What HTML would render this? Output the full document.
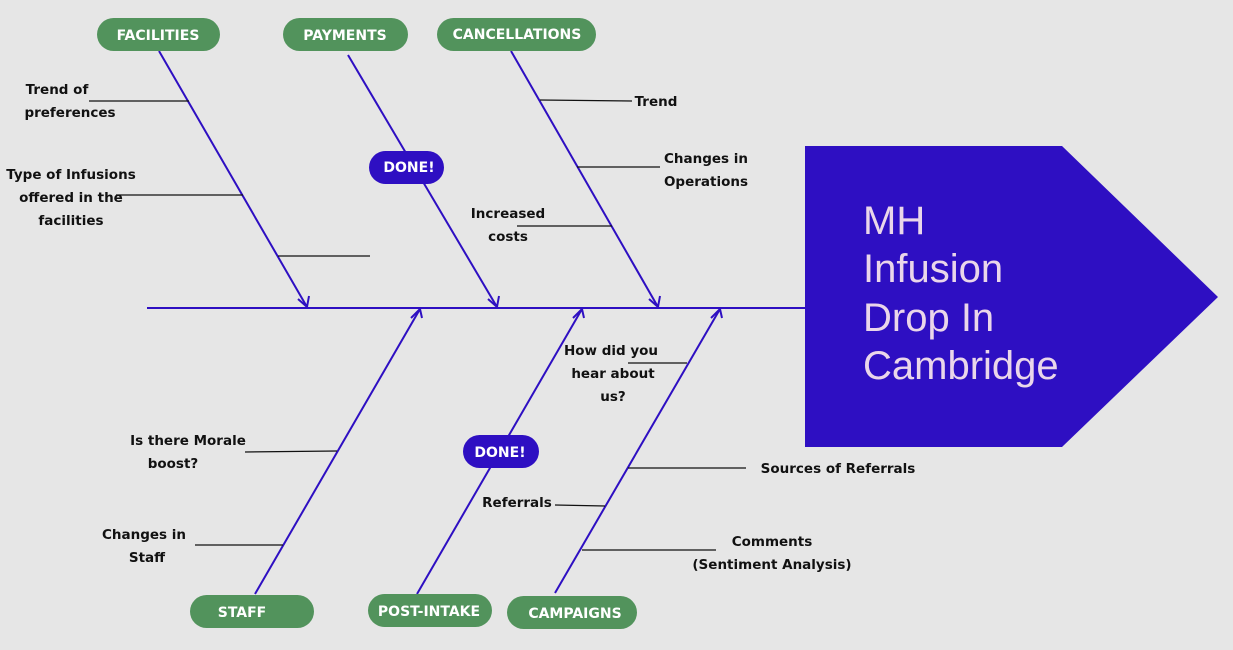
<!DOCTYPE html>
<html><head><style>
html,body{margin:0;padding:0;background:#e6e6e6;}
svg{display:block;}
.l{font-family:"DejaVu Sans","Liberation Sans",sans-serif;font-size:13.5px;font-weight:bold;fill:#111;}
.p{font-family:"DejaVu Sans","Liberation Sans",sans-serif;font-size:14px;font-weight:bold;fill:#fff;}
</style></head><body>
<svg width="1233" height="650" viewBox="0 0 1233 650" xmlns="http://www.w3.org/2000/svg">
<rect width="1233" height="650" fill="#e6e6e6"/>
<polygon points="805,146 1062,146 1218,297 1062,447 805,447" fill="#2e0fc2"/>
<g font-family="Liberation Sans, sans-serif" font-size="40" fill="#ead6ea">
<text x="863" y="234">MH</text><text x="863" y="282">Infusion</text><text x="863" y="331">Drop In</text><text x="863" y="379">Cambridge</text>
</g>
<g stroke="#2e0fc2" stroke-width="2" fill="none">
<line x1="147" y1="308" x2="805" y2="308"/>
<line x1="159" y1="51" x2="307" y2="307"/>
<line x1="348" y1="55" x2="497" y2="307"/>
<line x1="511" y1="51" x2="658" y2="307"/>
<line x1="255" y1="594" x2="420" y2="309"/>
<line x1="417" y1="594" x2="582" y2="309"/>
<line x1="555" y1="593" x2="720" y2="309"/>
<polyline points="298,299 307,307 309,296"/>
<polyline points="488,299 497,307 499,296"/>
<polyline points="649,299 658,307 660,296"/>
<polyline points="411,318 420,309 422,318"/>
<polyline points="573,318 582,309 584,318"/>
<polyline points="711,318 720,309 722,318"/>
</g>
<g stroke="#111" stroke-width="1.2">
<line x1="89" y1="101" x2="189" y2="101"/>
<line x1="116" y1="195" x2="243" y2="195"/>
<line x1="278" y1="256" x2="370" y2="256"/>
<line x1="540" y1="100" x2="632" y2="101"/>
<line x1="577" y1="167" x2="660" y2="167"/>
<line x1="517" y1="226" x2="612" y2="226"/>
<line x1="245" y1="452" x2="337" y2="451"/>
<line x1="195" y1="545" x2="283" y2="545"/>
<line x1="628" y1="363" x2="687" y2="363"/>
<line x1="628" y1="468" x2="746" y2="468"/>
<line x1="555" y1="505" x2="605" y2="506"/>
<line x1="582" y1="550" x2="716" y2="550"/>
</g>
<g fill="#52935c">
<rect x="97" y="18" width="123" height="33" rx="16.5"/>
<rect x="283" y="18" width="125" height="33" rx="16.5"/>
<rect x="437" y="18" width="159" height="33" rx="16.5"/>
<rect x="190" y="595" width="124" height="33" rx="16.5"/>
<rect x="368" y="594" width="124" height="33" rx="16.5"/>
<rect x="507" y="596" width="130" height="33" rx="16.5"/>
</g>
<g fill="#2e0fc2">
<rect x="369" y="151" width="75" height="33" rx="16.5"/>
<rect x="463" y="435" width="76" height="33" rx="16.5"/>
</g>
<g class="p" text-anchor="middle">
<text x="158" y="40">FACILITIES</text>
<text x="345" y="40">PAYMENTS</text>
<text x="517" y="39">CANCELLATIONS</text>
<text x="242" y="617">STAFF</text>
<text x="429" y="616">POST-INTAKE</text>
<text x="575" y="618">CAMPAIGNS</text>
<text x="409" y="172">DONE!</text>
<text x="500" y="457">DONE!</text>
</g>
<g class="l" text-anchor="middle">
<text x="57" y="94">Trend of</text><text x="70" y="117">preferences</text>
<text x="71" y="179">Type of Infusions</text><text x="71" y="202">offered in the</text><text x="71" y="225">facilities</text>
<text x="656" y="106">Trend</text>
<text x="706" y="163">Changes in</text><text x="706" y="186">Operations</text>
<text x="508" y="218">Increased</text><text x="508" y="241">costs</text>
<text x="611" y="355">How did you</text><text x="613" y="378">hear about</text><text x="613" y="401">us?</text>
<text x="188" y="445">Is there Morale</text><text x="173" y="468">boost?</text>
<text x="144" y="539">Changes in</text><text x="147" y="562">Staff</text>
<text x="517" y="507">Referrals</text>
<text x="838" y="473">Sources of Referrals</text>
<text x="772" y="546">Comments</text><text x="772" y="569">(Sentiment Analysis)</text>
</g>
</svg>
</body></html>
